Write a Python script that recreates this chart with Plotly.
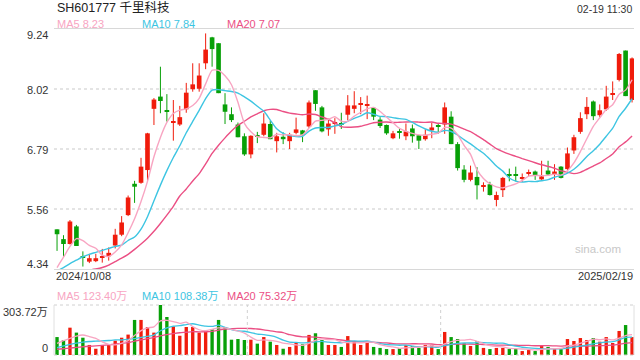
import plotly.graph_objects as go
import pandas as pd

# ---------------- data ----------------
title_text = "SH601777 千里科技"
time_text = "02-19 11:30"
x_labels = ["2024/10/08", "2025/02/19"]
price_ticks = [4.34, 5.56, 6.79, 8.02, 9.24]
vol_ticks = ["303.72万", "0"]
vol_max = 303.72

opens = [5.15, 4.95, 4.85, 5.21, 4.60, 4.49, 4.50, 4.58, 4.60, 4.82,
         5.04, 5.44, 6.08, 6.10, 6.36, 7.61, 7.86, 7.58, 7.33, 7.29,
         7.60, 8.01, 8.02, 8.54, 9.07, 8.95, 7.70, 7.50, 7.29, 7.05,
         6.68, 7.06, 7.08, 7.30, 6.95, 7.04, 6.95, 7.12, 7.17, 7.25,
         7.99, 7.64, 7.19, 7.32, 7.31, 7.49, 7.61, 7.69, 7.67, 7.63,
         7.39, 7.28, 7.01, 7.13, 7.05, 7.21, 7.07, 6.99, 7.17, 7.27,
         7.29, 7.45, 6.89, 6.37, 6.16, 6.22, 6.02, 6.07, 5.75, 5.95,
         6.26, 6.26, 6.18, 6.29, 6.33, 6.17, 6.35, 6.27, 6.43, 6.38,
         6.76, 7.14, 7.50, 7.76, 7.48, 7.60, 7.91, 8.20, 8.80, 7.79]
highs = [5.15, 5.03, 5.34, 5.24, 4.70, 4.65, 4.65, 4.75, 4.78, 5.16,
         5.42, 5.84, 6.14, 6.61, 7.12, 7.83, 8.47, 7.91, 7.79, 7.67,
         8.14, 8.54, 8.54, 9.15, 9.08, 8.95, 7.93, 7.64, 7.33, 7.11,
         7.07, 7.14, 7.52, 7.37, 7.12, 7.13, 7.12, 7.43, 7.18, 7.78,
         7.99, 7.67, 7.41, 7.42, 7.53, 7.89, 7.97, 7.85, 7.88, 7.64,
         7.44, 7.29, 7.16, 7.20, 7.31, 7.29, 7.08, 7.19, 7.33, 7.32,
         7.74, 7.56, 6.93, 6.46, 6.45, 6.42, 6.11, 6.12, 5.92, 6.22,
         6.39, 6.43, 6.29, 6.37, 6.35, 6.55, 6.55, 6.48, 6.44, 6.82,
         7.08, 7.54, 7.85, 7.78, 7.70, 8.08, 8.17, 8.75, 8.80, 8.66]
lows = [4.71, 4.58, 4.84, 4.81, 4.39, 4.46, 4.48, 4.47, 4.51, 4.76,
        5.01, 5.42, 5.69, 6.08, 6.12, 7.28, 7.52, 7.35, 6.96, 7.26,
        7.53, 7.96, 7.96, 8.42, 8.47, 7.93, 7.30, 7.34, 7.03, 6.65,
        6.60, 6.91, 7.05, 6.99, 6.72, 6.89, 6.79, 7.09, 6.93, 7.22,
        7.57, 7.13, 7.06, 7.10, 7.20, 7.38, 7.52, 7.50, 7.40, 7.38,
        7.22, 7.08, 6.99, 7.00, 6.97, 6.92, 6.79, 6.96, 7.01, 7.10,
        7.10, 6.89, 6.35, 6.11, 6.13, 5.76, 5.92, 5.84, 5.62, 5.81,
        6.13, 6.13, 6.12, 6.24, 6.16, 6.16, 6.24, 6.16, 6.19, 6.35,
        6.69, 7.10, 7.40, 7.38, 7.44, 7.57, 7.79, 8.17, 7.87, 7.74]
closes = [5.05, 4.85, 5.31, 4.81, 4.58, 4.56, 4.56, 4.60, 4.67, 5.04,
          5.29, 5.80, 6.02, 6.43, 7.11, 7.80, 7.77, 7.55, 7.35, 7.44,
          7.94, 8.11, 8.29, 8.82, 8.83, 7.93, 7.55, 7.38, 7.03, 6.68,
          7.06, 7.05, 7.31, 6.99, 7.05, 6.99, 7.08, 7.19, 7.08, 7.74,
          7.71, 7.15, 7.31, 7.33, 7.30, 7.68, 7.68, 7.70, 7.69, 7.45,
          7.26, 7.11, 7.11, 7.12, 7.15, 7.05, 6.96, 7.08, 7.23, 7.24,
          7.64, 6.89, 6.40, 6.16, 6.31, 6.05, 6.03, 5.85, 5.85, 6.20,
          6.25, 6.24, 6.20, 6.30, 6.26, 6.23, 6.27, 6.33, 6.20, 6.70,
          7.03, 7.42, 7.65, 7.46, 7.58, 7.86, 7.92, 8.73, 7.87, 8.64]
volumes = [109, 91, 166, 136, 105, 61, 38, 61, 61, 87,
           105, 124, 213, 213, 170, 136, 303.72, 231, 174, 117,
           170, 170, 136, 146, 156, 213, 170, 93, 97, 91,
           93, 69, 109, 81, 61, 38, 49, 77, 65, 122,
           132, 91, 61, 61, 49, 115, 81, 61, 81, 49,
           43, 36, 36, 40, 61, 55, 43, 61, 61, 36,
           140, 109, 97, 71, 55, 83, 43, 36, 43, 43,
           36, 36, 24, 30, 24, 55, 49, 36, 36, 97,
           85, 103, 91, 103, 81, 109, 73, 146, 182, 109]

# moving-average values at the left edge (need history before the window)
ma5_head = [4.37, 4.58, 4.80, 4.96]
ma10_head = [4.30, 4.37, 4.45, 4.52, 4.59, 4.64, 4.68, 4.72, 4.76]
ma20_head = [4.22, 4.25, 4.27, 4.29, 4.31, 4.32, 4.34, 4.37, 4.42, 4.49,
             4.56, 4.64, 4.74, 4.85, 4.97, 5.11, 5.27, 5.44, 5.62]
vma5_head = [71, 87, 101, 115]
vma10_head = [45, 55, 65, 72, 78, 82, 84, 86, 88]
vma20_head = [35, 38, 42, 46, 50, 53, 56, 59, 62, 66,
              71, 76, 84, 92, 99, 106, 116, 124, 130]

ma_legend = ["MA5 8.23", "MA10 7.84", "MA20 7.07"]
vma_legend = ["MA5 123.40万", "MA10 108.38万", "MA20 75.32万"]

# ---------------- styling ----------------
RED = "#f01c0c"
GREEN = "#08a008"
C_MA5 = "#f8a5c2"
C_MA10 = "#3dc5e2"
C_MA20 = "#eb4f84"
FONT = "Arial, 'Liberation Sans', 'Noto Sans CJK SC', sans-serif"
W, H = 640, 360


def ma(values, n, head):
    s = pd.Series(values, dtype=float).rolling(n).mean().tolist()
    return list(head) + s[n - 1:]


n = len(closes)
idx = list(range(n))
up = [closes[i] >= opens[i] for i in idx]

fig = go.Figure()

# wicks
for flag, col in ((True, RED), (False, GREEN)):
    wx, wy = [], []
    for i in idx:
        if up[i] == flag:
            wx += [i, i, None]
            wy += [lows[i], highs[i], None]
    fig.add_trace(go.Scatter(x=wx, y=wy, mode="lines", line=dict(color=col, width=1),
                             hoverinfo="skip", xaxis="x", yaxis="y"))

# bodies
for flag, col in ((True, RED), (False, GREEN)):
    bx = [i for i in idx if up[i] == flag]
    base = [min(opens[i], closes[i]) for i in bx]
    hgt = [max(abs(closes[i] - opens[i]), 0.022) for i in bx]
    fig.add_trace(go.Bar(x=bx, y=hgt, base=base, width=0.72, marker=dict(color=col, line=dict(width=0)),
                         xaxis="x", yaxis="y"))

# moving averages (price)
for n_, head, col in ((20, ma20_head, C_MA20), (10, ma10_head, C_MA10), (5, ma5_head, C_MA5)):
    fig.add_trace(go.Scatter(x=idx, y=ma(closes, n_, head), mode="lines",
                             line=dict(color=col, width=1.4, shape="spline", smoothing=0.6),
                             xaxis="x", yaxis="y"))

# volume bars
for flag, col in ((True, RED), (False, GREEN)):
    vx = [i for i in idx if up[i] == flag]
    fig.add_trace(go.Bar(x=vx, y=[volumes[i] for i in vx], width=0.52,
                         marker=dict(color=col, line=dict(width=0)), xaxis="x2", yaxis="y2"))

for n_, head, col in ((20, vma20_head, C_MA20), (10, vma10_head, C_MA10), (5, vma5_head, C_MA5)):
    fig.add_trace(go.Scatter(x=idx, y=ma(volumes, n_, head), mode="lines",
                             line=dict(color=col, width=1.3, shape="spline", smoothing=0.6),
                             xaxis="x2", yaxis="y2"))


def px(x):
    return x / W


def py(y):
    return 1 - y / H


xr = [-0.47, n - 0.7]
xdom = [px(54), px(634)]

fig.update_layout(
    width=W, height=H, margin=dict(l=0, r=0, t=0, b=0),
    paper_bgcolor="white", plot_bgcolor="white",
    showlegend=False, barmode="overlay",
    font=dict(family=FONT, color="#333", size=11),
    xaxis=dict(domain=xdom, range=xr, anchor="y", showticklabels=False, showgrid=False,
               zeroline=False, showline=True, mirror=True, linecolor="#d8d8d8", linewidth=1, ticks=""),
    yaxis=dict(domain=[py(269), py(29)], range=[price_ticks[0], price_ticks[-1]],
               tickvals=[5.565, 6.79, 8.015], showticklabels=False, gridcolor="#e4e4e4",
               griddash="dot", gridwidth=2, zeroline=False, showline=False, ticks=""),
    xaxis2=dict(domain=xdom, range=xr, anchor="y2", showticklabels=False, showgrid=False,
                zeroline=False, showline=False, ticks=""),
    yaxis2=dict(domain=[py(355), py(305)], range=[0, vol_max], showticklabels=False,
                showgrid=False, zeroline=False, showline=False, ticks=""),
)

shapes = []
# volume panel frame: dotted
for yv in (0, 1):
    shapes.append(dict(type="line", xref="x2 domain", yref="y2 domain", x0=0, x1=1, y0=yv, y1=yv,
                       line=dict(color="#d0d0d0", width=1, dash="dot")))
for xv in (1 / 3, 2 / 3):
    shapes.append(dict(type="line", xref="x2 domain", yref="y2 domain", x0=xv, x1=xv, y0=0, y1=1,
                       line=dict(color="#d0d0d0", width=1, dash="dot")))
for xv in (0, 1):
    shapes.append(dict(type="line", xref="x2 domain", yref="y2 domain", x0=xv, x1=xv, y0=0, y1=1,
                       line=dict(color="#e0e0e0", width=1)))
fig.update_layout(shapes=shapes)

ann = []


def text(x, y, s, color="#333", size=11, anchor="left"):
    ann.append(dict(x=px(x), y=py(y), xref="paper", yref="paper", text=s, showarrow=False,
                    xanchor=anchor, yanchor="middle", font=dict(color=color, size=size, family=FONT)))


text(55, 8, title_text, "#222", 12.5)
text(634, 9, time_text, "#333", 10.5, "right")
for xx, s, c in zip((55, 140, 225), ma_legend, (C_MA5, C_MA10, C_MA20)):
    text(xx, 24, s, c, 11)
for xx, s, c in zip((55, 140, 225), vma_legend, (C_MA5, C_MA10, C_MA20)):
    text(xx, 296, s, c, 11)
for yy, s in zip((264, 210, 149.5, 90, 35.5), [f"{v:.2f}" for v in price_ticks]):
    text(50, yy, s, "#333", 11, "right")
text(50, 312, vol_ticks[0], "#333", 11, "right")
text(50, 348, vol_ticks[1], "#333", 11, "right")
text(54, 276, x_labels[0], "#333", 11)
text(635, 276, x_labels[1], "#333", 11, "right")
text(623, 249, "sina.com", "#c8c8c8", 11.5, "right")
fig.update_layout(annotations=ann)

fig.write_html("out.html")
